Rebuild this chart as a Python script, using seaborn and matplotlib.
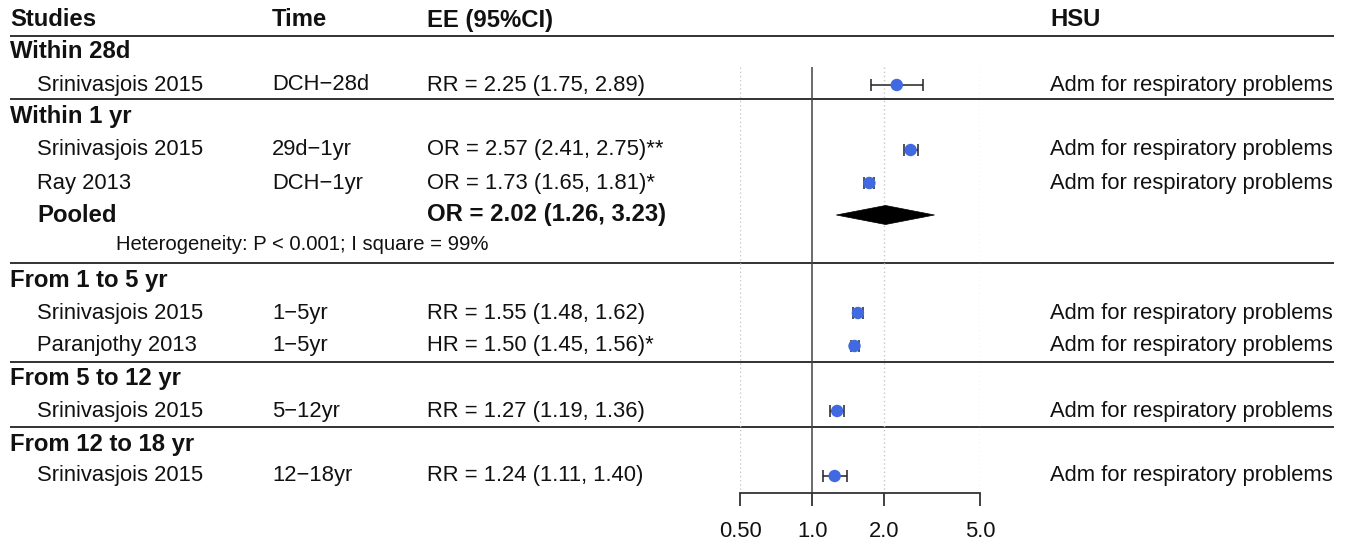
import matplotlib
matplotlib.use("Agg")
import matplotlib.pyplot as plt
from matplotlib.patches import Polygon
import seaborn as sns
import pandas as pd
import numpy as np

sns.set_theme(style="white")
plt.rcParams['font.family'] = ['Liberation Sans', 'DejaVu Sans']

# ---- data ----
groups = ["Within 28d", "Within 1 yr", "From 1 to 5 yr", "From 5 to 12 yr", "From 12 to 18 yr"]
studies = ["Srinivasjois 2015", "Srinivasjois 2015", "Ray 2013", "Srinivasjois 2015",
           "Paranjothy 2013", "Srinivasjois 2015", "Srinivasjois 2015"]
study_group = [0, 1, 1, 2, 2, 3, 4]
times = ["DCH\u221228d", "29d\u22121yr", "DCH\u22121yr", "1\u22125yr", "1\u22125yr", "5\u221212yr", "12\u221218yr"]
measure = ["RR", "OR", "OR", "RR", "HR", "RR", "RR"]
est = [2.25, 2.57, 1.73, 1.55, 1.50, 1.27, 1.24]
lower = [1.75, 2.41, 1.65, 1.48, 1.45, 1.19, 1.11]
upper = [2.89, 2.75, 1.81, 1.62, 1.56, 1.36, 1.40]
suffix = ["", "**", "*", "", "*", "", ""]
hsu = ["Adm for respiratory problems"] * 7
pooled_measure = "OR"
pooled_est, pooled_lo, pooled_hi = 2.02, 1.26, 3.23
heterogeneity = "Heterogeneity: P < 0.001; I square = 99%"
xticks = [0.5, 1.0, 2.0, 5.0]
xticklabels = ["0.50", "1.0", "2.0", "5.0"]
headers = ["Studies", "Time", "EE (95%CI)", "HSU"]

# ---- layout (pixel rows) ----
W, H = 1349, 541
fig = plt.figure(figsize=(W / 100, H / 100), dpi=100)
bg = fig.add_axes([0, 0, 1, 1])
bg.set_xlim(0, W)
bg.set_ylim(H, 0)
bg.axis("off")

ax_bottom = 493
ax = fig.add_axes([740 / W, (H - ax_bottom) / H, 240 / W, ax_bottom / H])
ax.set_xscale("log")
ax.set_xlim(0.5, 5)
ax.set_ylim(ax_bottom, 0)
ax.patch.set_alpha(0)

group_y = [52, 117, 280, 379, 444]
study_y = [85, 150, 183, 313, 346, 411, 476]
pooled_y = 215
het_y = 244
sep_y = [36, 99, 263, 362, 427]

fs = 15.8
fsb = 17.2
txt = "#111111"
col_x = [10, 272, 427, 1050]

for h, x in zip(headers, col_x):
    bg.text(x, 20, h, fontsize=fsb, fontweight="bold", va="center", ha="left", color=txt)
for g, y in zip(groups, group_y):
    bg.text(10, y, g, fontsize=fsb, fontweight="bold", va="center", ha="left", color=txt)
for i, y in enumerate(study_y):
    bg.text(37, y, studies[i], fontsize=fs, va="center", color=txt)
    bg.text(272, y, times[i], fontsize=fs, va="center", color=txt)
    bg.text(427, y, f"{measure[i]} = {est[i]:.2f} ({lower[i]:.2f}, {upper[i]:.2f}){suffix[i]}",
            fontsize=fs, va="center", color=txt)
    bg.text(1050, y, hsu[i], fontsize=fs, va="center", color=txt)
bg.text(37, pooled_y, "Pooled", fontsize=fsb, fontweight="bold", va="center", color=txt)
bg.text(427, pooled_y, f"{pooled_measure} = {pooled_est:.2f} ({pooled_lo:.2f}, {pooled_hi:.2f})",
        fontsize=fsb, fontweight="bold", va="center", color=txt)
bg.text(116, het_y, heterogeneity, fontsize=14.6, va="center", color=txt)

for y in sep_y:
    bg.plot([10, 1334], [y, y], color="#222222", lw=1.3, solid_capstyle="butt")

# reference lines
for xv in [0.5, 2.0, 5.0]:
    ax.vlines(xv, 67, ax_bottom, color="#c8c8c8", lw=1.0, linestyles=(0, (1, 2)), zorder=1)
ax.vlines(1.0, 67, 505, color="#444444", lw=1.1, clip_on=False, zorder=1)

# CIs and points
df = pd.DataFrame({"est": est, "lo": lower, "hi": upper, "y": study_y})
ax.errorbar(df["est"], df["y"], xerr=[df["est"] - df["lo"], df["hi"] - df["est"]],
            fmt="none", ecolor="#222222", elinewidth=1.1, capsize=4, capthick=1.1, zorder=2)
sns.scatterplot(data=df, x="est", y="y", ax=ax, color="#4169E1", s=80, edgecolor="none",
                zorder=3, legend=False)

# pooled diamond
dh = 9.5
ax.add_patch(Polygon([(pooled_lo, pooled_y), (pooled_est, pooled_y - dh),
                      (pooled_hi, pooled_y), (pooled_est, pooled_y + dh)],
                     closed=True, facecolor="black", edgecolor="black", lw=0.5, zorder=3))

# x axis
for s in ["top", "left", "right"]:
    ax.spines[s].set_visible(False)
ax.spines["bottom"].set_visible(True)
ax.spines["bottom"].set_color("#333333")
ax.spines["bottom"].set_linewidth(1.3)
ax.spines["bottom"].set_bounds(0.5, 5)
ax.set_yticks([])
ax.xaxis.set_minor_locator(matplotlib.ticker.NullLocator())
ax.set_xticks(xticks)
ax.set_xticklabels(xticklabels)
ax.tick_params(axis="x", which="major", direction="out", length=9, width=1.3,
               color="#333333", labelsize=fs, labelcolor=txt, pad=11, bottom=True)
ax.set_xlabel("")
ax.set_ylabel("")
ax.grid(False)

fig.savefig("out.png", dpi=100)
